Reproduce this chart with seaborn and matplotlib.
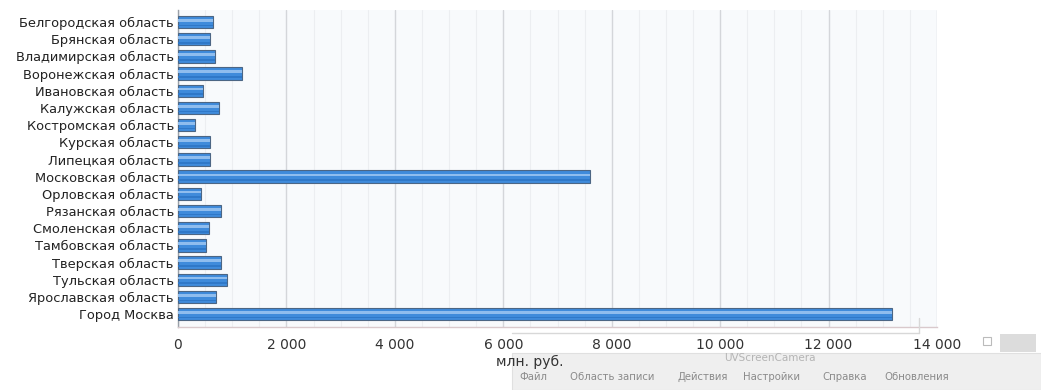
import matplotlib
matplotlib.use("Agg")
import matplotlib.pyplot as plt
import matplotlib.patches as mpatches
import numpy as np
import pandas as pd
import seaborn as sns

regions = [
    "Белгородская область", "Брянская область", "Владимирская область",
    "Воронежская область", "Ивановская область", "Калужская область",
    "Костромская область", "Курская область", "Липецкая область",
    "Московская область", "Орловская область", "Рязанская область",
    "Смоленская область", "Тамбовская область", "Тверская область",
    "Тульская область", "Ярославская область", "Город Москва",
]
values = [
    650, 590, 690, 1185, 465, 755, 315, 590, 590,
    7605, 420, 790, 570, 510, 790, 910, 705, 13170,
]
x_ticks = [0, 2000, 4000, 6000, 8000, 10000, 12000, 14000]
x_tick_labels = ["0", "2 000", "4 000", "6 000", "8 000", "10 000", "12 000", "14 000"]
x_label = "млн. руб."
menu_items = ["Файл", "Область записи", "Действия", "Настройки", "Справка", "Обновления"]
watermark = "UVScreenCamera"

df = pd.DataFrame({"region": regions, "value": values})

sns.set_theme(style="white")
plt.rcParams["font.family"] = ["DejaVu Sans"]

W, H = 1041, 390
fig = plt.figure(figsize=(W / 100, H / 100), dpi=100)
fig.patch.set_facecolor("white")
ax = fig.add_axes([178 / W, 1 - 327 / H, (937 - 178) / W, (327 - 10) / H])
ax.set_facecolor("#f8fafc")

sns.barplot(data=df, y="region", x="value", orient="h", ax=ax,
            color="#3f8bdb", saturation=1, width=0.72,
            edgecolor="#4c6684", linewidth=0.8, zorder=3)

# lighter glossy stripe across the upper part of every bar
ypos = np.arange(len(values))
ax.barh(ypos - 0.1, values, height=0.16, left=0, color="#8fbdee",
        linewidth=0, zorder=4)
ax.barh(ypos + 0.2, values, height=0.1, left=0, color="#2f78c8",
        linewidth=0, zorder=4)

ax.set_xlim(0, 14000)
ax.set_ylim(len(values) - 0.25, -0.7)
ax.set_xticks(x_ticks)
ax.set_xticklabels(x_tick_labels)
ax.set_xticks(np.arange(0, 14001, 500), minor=True)
ax.grid(axis="x", which="major", color="#d4d6da", linewidth=1.0, zorder=0)
ax.grid(axis="x", which="minor", color="#eceef1", linewidth=0.8, zorder=0)
ax.set_axisbelow(True)

ax.set_ylabel("")
ax.set_xlabel(x_label, fontsize=10, color="#333333")
ax.xaxis.set_label_coords(0.463, -0.088)
ax.tick_params(axis="y", labelsize=9.4, colors="#222222", length=0, pad=3)
ax.tick_params(axis="x", labelsize=10, colors="#333333", length=0, pad=8)

for s in ["top", "right"]:
    ax.spines[s].set_visible(False)
ax.spines["left"].set_color("#9aa0a8")
ax.spines["left"].set_linewidth(1.0)
ax.spines["bottom"].set_color("#d9c9cc")
ax.spines["bottom"].set_linewidth(1.0)

# recorder toolbar in the lower right corner
def px(x, y):
    return x / W, 1 - y / H

panel = mpatches.Rectangle(px(512, 390), (W - 512) / W, (390 - 353) / H,
                           transform=fig.transFigure, facecolor="#efefef",
                           edgecolor="#e0e0e0", linewidth=0.8, zorder=-1)
fig.add_artist(panel)
fig.add_artist(plt.Line2D([512 / W, 919 / W], [1 - 333 / H, 1 - 333 / H],
                          transform=fig.transFigure, color="#d8d8d8", lw=1.0, zorder=5))
fig.add_artist(plt.Line2D([919 / W, 919 / W], [1 - 318 / H, 1 - 333 / H],
                          transform=fig.transFigure, color="#d8d8d8", lw=1.0, zorder=5))
btn = mpatches.Rectangle(px(1000, 352), 36 / W, 18 / H, transform=fig.transFigure,
                         facecolor="#dcdcdc", edgecolor="none", zorder=6)
fig.add_artist(btn)
sq = mpatches.Rectangle(px(983, 345), 8 / W, 8 / H, transform=fig.transFigure,
                        facecolor="none", edgecolor="#bbbbbb", lw=0.8, zorder=6)
fig.add_artist(sq)

menu_x = [519, 570, 677, 743, 822, 884]
for mx, item in zip(menu_x, menu_items):
    fig.text(mx / W, 1 - 377 / H, item, fontsize=7.3, color="#8a8a8a",
             va="center", ha="left", zorder=7)
fig.text(770 / W, 1 - 358 / H, watermark, fontsize=7.5, color="#b4b4b4",
         va="center", ha="center", zorder=7)

fig.savefig("out.png", dpi=100)
